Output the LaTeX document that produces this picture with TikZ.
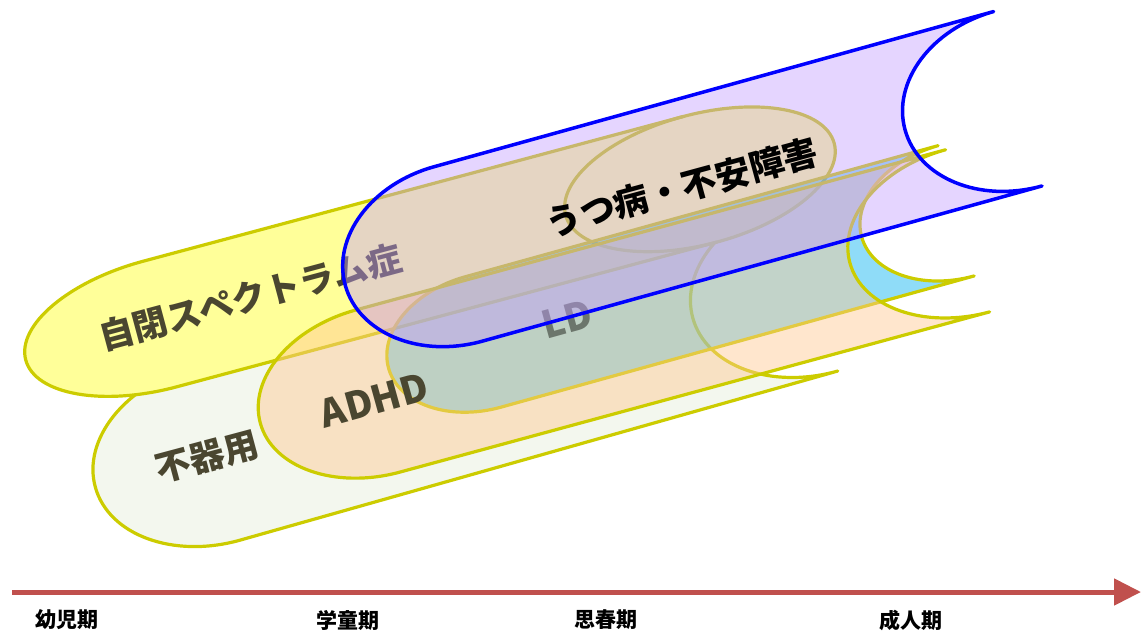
\documentclass[tikz,border=0pt]{standalone}
\usepackage{fontspec}
\newfontfamily\jp{Noto Sans CJK JP}
\usetikzlibrary{arrows.meta}
\definecolor{ystroke}{RGB}{204,204,0}
\definecolor{yfill}{RGB}{255,255,153}
\definecolor{bkfill}{RGB}{243,247,238}
\definecolor{ldfill}{RGB}{0,176,240}
\definecolor{adfill}{RGB}{255,200,145}
\definecolor{blfill}{RGB}{194,155,255}
\definecolor{blstroke}{RGB}{0,0,255}
\definecolor{txtdark}{RGB}{74,70,48}
\definecolor{ldtxt}{RGB}{108,118,108}
\definecolor{arrowred}{RGB}{192,80,77}
\begin{document}
\begin{tikzpicture}[x=1pt,y=-1pt,
  ybord/.style={draw=ystroke, line width=3.2pt, line join=round, line cap=round},
  bbord/.style={draw=blstroke, line width=3.5pt, line join=round, line cap=round},
  jlbl/.style={font=\jp\bfseries\fontsize{35}{40}\selectfont, text=txtdark, inner sep=0pt},
  llbl/.style={font=\jp\bfseries\fontsize{38}{42}\selectfont, text=txtdark, inner sep=0pt},
  tlbl/.style={font=\jp\bfseries\fontsize{21}{24}\selectfont, text=black, inner sep=0pt}]
\useasboundingbox (0,0) rectangle (1144,633);

% 不器用
\begin{scope}[shift={(215.7,453.5)}, rotate=15.8]
  \path[ybord, fill=bkfill] (0,-90) -- (621,-90)
    arc[start angle=270, end angle=90, x radius=125, y radius=90] -- (0,90)
    arc[start angle=90, end angle=270, x radius=125, y radius=90] -- cycle;
\end{scope}
\node[jlbl, rotate=15] (tbukiyo) at (207,457) {不器用};

% 自閉スペクトラム症
\begin{scope}[shift={(160,324)}, rotate=15]
  \path[ybord, fill=yfill] (0,-65) -- (559,-65)
    arc[start angle=270, end angle=450, x radius=139, y radius=65] -- (0,65)
    arc[start angle=90, end angle=270, x radius=139, y radius=65] -- cycle;
  \draw[ybord] (559,-65) arc[start angle=270, end angle=90, x radius=139, y radius=65];
\end{scope}
\node[jlbl, rotate=15] (tasd) at (250,297) {自閉スペクトラム症};

% LD
\begin{scope}[shift={(483,342)}, rotate=15.5]
  \path[ybord, fill=ldfill, fill opacity=0.44] (0,-67.6) -- (491,-67.6)
    arc[start angle=270, end angle=90, x radius=98, y radius=67.6] -- (0,67.6)
    arc[start angle=90, end angle=270, x radius=98, y radius=67.6] -- cycle;
\end{scope}

% ADHD
\begin{scope}[shift={(378,391)}, rotate=15.2]
  \path[ybord, fill=adfill, fill opacity=0.455] (0,-84) -- (611,-84)
    arc[start angle=270, end angle=90, x radius=122, y radius=84] -- (0,84)
    arc[start angle=90, end angle=270, x radius=122, y radius=84] -- cycle;
\end{scope}
\node[llbl, rotate=15.5] (tadhd) at (374,400) {ADHD};
\node[llbl, rotate=15.5, text=ldtxt] (tld) at (567,319) {LD};

% うつ病・不安障害
\begin{scope}[shift={(458,254)}, rotate=15.5]
  \path[bbord, fill=blfill, fill opacity=0.42] (0,-90.5) -- (581,-90.5)
    arc[start angle=270, end angle=90, x radius=117, y radius=90.5] -- (0,90.5)
    arc[start angle=90, end angle=270, x radius=117, y radius=90.5] -- cycle;
\end{scope}
\node[jlbl, rotate=15.2, text=black] (tdep) at (682,187.5) {うつ病・不安障害};

% timeline
\coordinate (tl0) at (12,592);
\coordinate (tl1) at (1141,592);
\draw[arrowred, line width=5pt, -{Triangle[length=27pt, width=26pt]}] (tl0) -- (tl1);
\node[tlbl] (l1) at (67,620) {幼児期};
\node[tlbl] (l2) at (348,620) {学童期};
\node[tlbl] (l3) at (606,620) {思春期};
\node[tlbl] (l4) at (911,620) {成人期};
\end{tikzpicture}
\end{document}
